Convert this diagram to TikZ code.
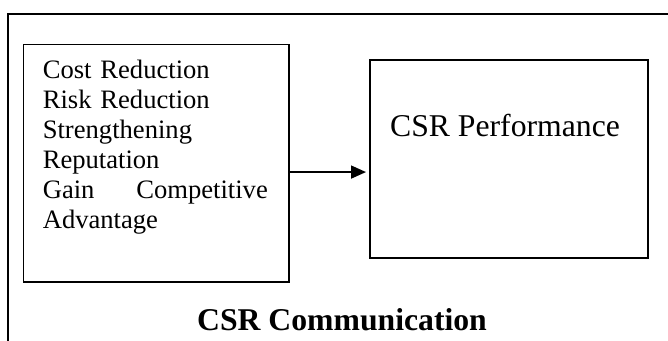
\documentclass[tikz,border=0pt]{standalone}
\usepackage{fontspec}
\setmainfont{Liberation Serif}
\usetikzlibrary{arrows.meta}
\begin{document}
\begin{tikzpicture}[x=1pt,y=-1pt,
  boxstyle/.style={draw,line width=1.6pt,rectangle,inner sep=0pt},
  itemtext/.style={font=\fontsize{26.6}{30}\selectfont,inner sep=0pt,text width=225pt,align=left,anchor=north west},
  bigtext/.style={font=\fontsize{31.7}{36}\selectfont,inner sep=0pt,anchor=base}]
\useasboundingbox (0,0) rectangle (668,340);
\coordinate (fb) at (8,341);
\coordinate (fc) at (8,14);
\coordinate (fr) at (669,14);
\draw[line width=1.6pt] (fb) -- (fc) -- (fr);
\node[boxstyle,minimum width=265.5pt,minimum height=237.5pt,anchor=north west] (L) at (22.5,43.5) {};
\node[boxstyle,minimum width=278pt,minimum height=198pt,anchor=north west] (R) at (369,59) {};
\node[itemtext] (items) at (42.6,59.8) {Cost Reduction\\Risk Reduction\\Strengthening\\Reputation\\Gain\hfill Competitive\\Advantage};
\node[bigtext] (perf) at (505,136) {CSR Performance};
\node[bigtext,font=\fontsize{31.7}{36}\selectfont\bfseries] (comm) at (342,330) {CSR Communication};
\draw[line width=1.6pt,-{Triangle[length=15pt,width=13pt]},shorten >=3pt] ([yshift=-9pt]L.east) -- ([yshift=-9pt]L.east -| R.west);
\end{tikzpicture}
\end{document}
